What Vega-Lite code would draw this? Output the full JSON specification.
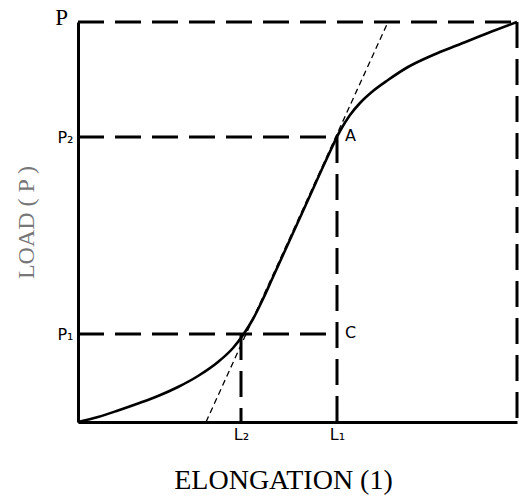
{
  "$schema": "https://vega.github.io/schema/vega-lite/v6.json",
  "width": 439,
  "height": 400,
  "autosize": {"type": "none"},
  "padding": {"left": 78, "top": 22, "right": 2, "bottom": 77},
  "background": "white",
  "config": {"view": {"stroke": null}},
  "datasets": {
    "curve": [
      {"e": 0, "p": 0},
      {"e": 20, "p": 5},
      {"e": 40, "p": 11.5},
      {"e": 60, "p": 18.5},
      {"e": 80, "p": 26},
      {"e": 100, "p": 35},
      {"e": 120, "p": 46},
      {"e": 140, "p": 60},
      {"e": 155, "p": 74},
      {"e": 165, "p": 87},
      {"e": 175, "p": 103},
      {"e": 185, "p": 123},
      {"e": 195, "p": 145},
      {"e": 210, "p": 178},
      {"e": 230, "p": 222},
      {"e": 250, "p": 266},
      {"e": 262, "p": 291},
      {"e": 272, "p": 307},
      {"e": 282, "p": 319},
      {"e": 295, "p": 331},
      {"e": 310, "p": 342},
      {"e": 330, "p": 355},
      {"e": 355, "p": 367},
      {"e": 380, "p": 377},
      {"e": 410, "p": 389},
      {"e": 439, "p": 400}
    ],
    "dashes": [
      {"e": 0, "p": 400, "e2": 439, "p2": 400},
      {"e": 439, "p": 400, "e2": 439, "p2": 0},
      {"e": 0, "p": 285, "e2": 259, "p2": 285},
      {"e": 0, "p": 88, "e2": 259, "p2": 88},
      {"e": 163, "p": 88, "e2": 163, "p2": 0},
      {"e": 259, "p": 285, "e2": 259, "p2": 0}
    ],
    "tangent": [
      {"e": 128, "p": 0, "e2": 310, "p2": 400}
    ],
    "points": [
      {"e": 259, "p": 285, "name": "A"},
      {"e": 259, "p": 88, "name": "C"}
    ],
    "top": [
      {"e": 0, "p": 400, "name": "P"}
    ]
  },
  "layer": [
    {
      "data": {"name": "dashes"},
      "mark": {"type": "rule", "color": "black", "strokeWidth": 3, "strokeDash": [26, 11]},
      "encoding": {
        "x": {"field": "e", "type": "quantitative", "scale": {"domain": [0, 439], "nice": false, "zero": false},
          "axis": {
            "values": [163, 259],
            "labelExpr": "datum.value == 163 ? 'L₂' : 'L₁'",
            "ticks": false,
            "grid": false,
            "domainColor": "black",
            "domainWidth": 3,
            "labelFont": "DejaVu Sans",
            "labelFontSize": 16,
            "labelColor": "black",
            "labelPadding": 4,
            "title": "ELONGATION (1)",
            "titleFont": "Liberation Serif",
            "titleFontSize": 28,
            "titleFontWeight": "normal",
            "titleColor": "black",
            "titlePadding": 24,
            "titleX": 205
          }
        },
        "y": {"field": "p", "type": "quantitative", "scale": {"domain": [0, 400], "nice": false, "zero": false},
          "axis": {
            "values": [88, 285],
            "labelExpr": "datum.value == 88 ? 'P₁' : 'P₂'",
            "ticks": false,
            "grid": false,
            "domainColor": "black",
            "domainWidth": 3,
            "labelFont": "DejaVu Sans",
            "labelFontSize": 16,
            "labelColor": "black",
            "labelPadding": 5,
            "title": "LOAD ( P )",
            "titleFont": "Liberation Serif",
            "titleFontSize": 24,
            "titleFontWeight": "normal",
            "titleColor": "#777777",
            "titlePadding": 18
          }
        },
        "x2": {"field": "e2"},
        "y2": {"field": "p2"}
      }
    },
    {
      "data": {"name": "tangent"},
      "mark": {"type": "rule", "color": "black", "strokeWidth": 1.3, "strokeDash": [6, 4]},
      "encoding": {
        "x": {"field": "e", "type": "quantitative"},
        "y": {"field": "p", "type": "quantitative"},
        "x2": {"field": "e2"},
        "y2": {"field": "p2"}
      }
    },
    {
      "data": {"name": "curve"},
      "mark": {"type": "line", "color": "black", "strokeWidth": 2.6, "interpolate": "monotone"},
      "encoding": {
        "x": {"field": "e", "type": "quantitative"},
        "y": {"field": "p", "type": "quantitative"}
      }
    },
    {
      "data": {"name": "points"},
      "mark": {"type": "text", "font": "DejaVu Sans", "fontSize": 16, "color": "black", "align": "left", "baseline": "middle", "dx": 8, "dy": -1},
      "encoding": {
        "x": {"field": "e", "type": "quantitative"},
        "y": {"field": "p", "type": "quantitative"},
        "text": {"field": "name"}
      }
    },
    {
      "data": {"name": "top"},
      "mark": {"type": "text", "font": "Liberation Serif", "fontSize": 23, "color": "black", "align": "right", "baseline": "middle", "dx": -10, "dy": -4},
      "encoding": {
        "x": {"field": "e", "type": "quantitative"},
        "y": {"field": "p", "type": "quantitative"},
        "text": {"field": "name"}
      }
    }
  ]
}
